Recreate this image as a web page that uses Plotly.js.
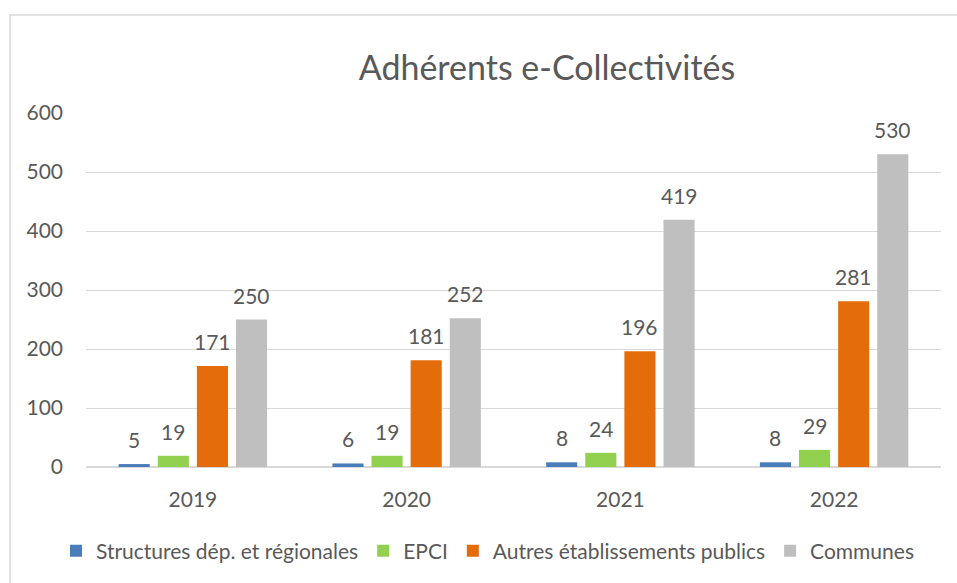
<!DOCTYPE html>
<html><head><meta charset="utf-8">
<script src="https://cdn.plot.ly/plotly-3.0.1.min.js"></script>
<style>html,body{margin:0;padding:0;background:#fff}#chart{width:957px;height:583px}</style>
</head><body><div id="chart"></div>
<script>
const years = ['2019', '2020', '2021', '2022'];
const seriesNames = ['Structures dép. et régionales', 'EPCI', 'Autres établissements publics', 'Communes'];
const structures = [5, 6, 8, 8];
const epci = [19, 19, 24, 29];
const autres = [171, 181, 196, 281];
const communes = [250, 252, 419, 530];
const colors = ['#4A7EBB', '#92D050', '#E46C0A', '#BFBFBF'];
const values = [structures, epci, autres, communes];

const FONT = 'Lato, "Open Sans", sans-serif';
const TXT = '#595959';
const W = 957, H = 583;
const M = {l: 86, r: 16, t: 113, b: 116, autoexpand: false};
const bargap = 0.268, bargroupgap = 0.205;
const plotW = W - M.l - M.r;
const plotH = H - M.t - M.b;
const slot = (1 - bargap) * (plotW / years.length) / values.length;

const traces = values.map((v, i) => ({
  type: 'bar', name: seriesNames[i], x: years, y: v,
  marker: {color: colors[i]}, hoverinfo: 'x+y'
}));

const annotations = [];
values.forEach((v, i) => {
  v.forEach((val, j) => {
    annotations.push({
      x: j, y: val, xref: 'x', yref: 'y', text: String(val),
      showarrow: false, yanchor: 'bottom', yshift: 10,
      xshift: (i - (values.length - 1) / 2) * slot,
      font: {family: FONT, size: 21, color: TXT}
    });
  });
});

const layout = {
  width: W, height: H, margin: M,
  paper_bgcolor: '#fff', plot_bgcolor: '#fff',
  barmode: 'group', bargap: bargap, bargroupgap: bargroupgap,
  font: {family: FONT, color: TXT},
  title: {text: 'Adhérents e-Collectivités', xref: 'container', yref: 'container',
    x: 547 / W, xanchor: 'center', y: 1 - 68 / H, yanchor: 'middle',
    font: {family: FONT, size: 34, color: TXT}},
  xaxis: {type: 'category', range: [-0.5, years.length - 0.5], autorange: false,
    showgrid: false, showline: false, zeroline: false,
    ticks: '', tickfont: {family: FONT, size: 21, color: TXT}, ticklabelstandoff: 18},
  yaxis: {range: [0, 600], autorange: false, dtick: 100, tick0: 0, showgrid: true, gridcolor: '#D9D9D9', gridwidth: 1,
    zeroline: true, zerolinecolor: '#D9D9D9', zerolinewidth: 1.5, showline: false, ticks: '',
    tickfont: {family: FONT, size: 21, color: TXT}, ticklabelstandoff: 22},
  legend: {orientation: 'h', xref: 'paper', x: (56 - M.l) / plotW, xanchor: 'left',
    y: -(551 - (H - M.b)) / plotH, yanchor: 'middle',
    font: {family: FONT, size: 21, color: TXT}, itemwidth: 30, traceorder: 'normal'},
  showlegend: true,
  annotations: annotations,
  shapes: [{type: 'rect', xref: 'paper', yref: 'paper',
    x0: (10 - M.l) / plotW, x1: (W + 20 - M.l) / plotW,
    y0: -(H + 20 - (H - M.b)) / plotH, y1: 1 + (M.t - 15) / plotH,
    line: {color: '#D9D9D9', width: 1.5}, layer: 'below'}]
};

Plotly.newPlot('chart', traces, layout, {displayModeBar: false, staticPlot: true});
</script></body></html>
